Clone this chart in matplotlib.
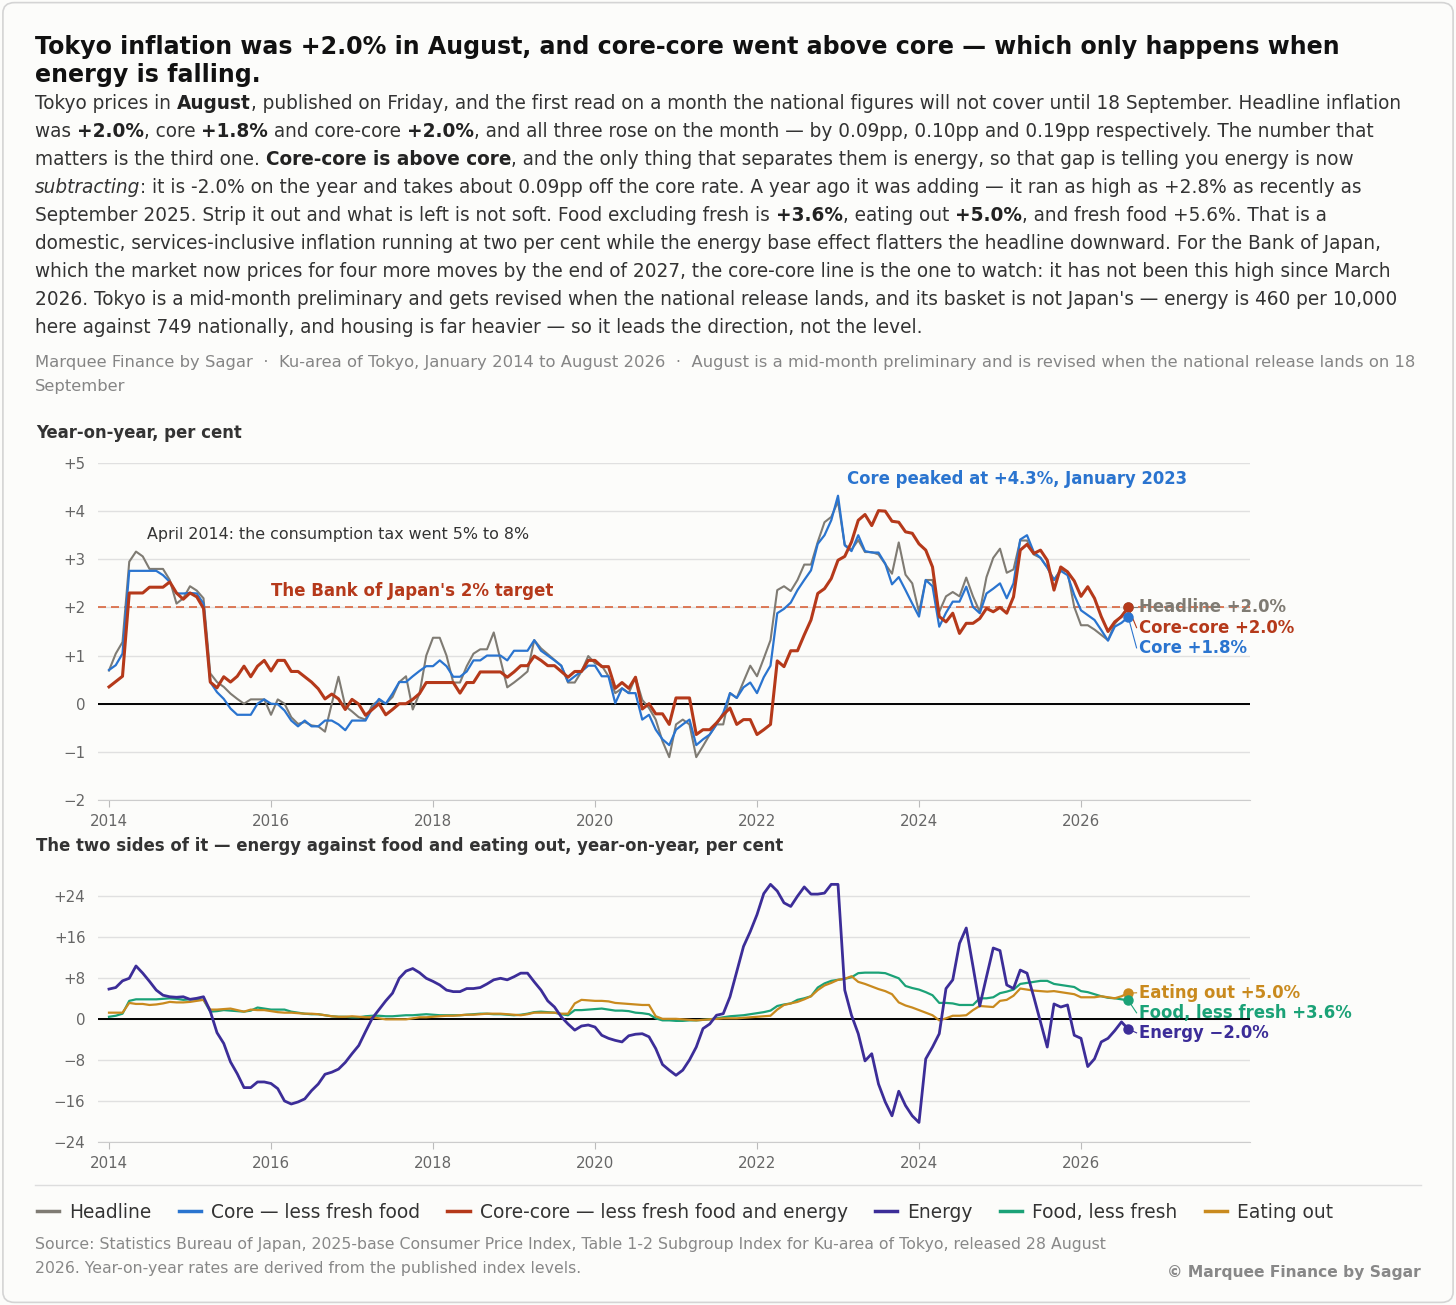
import numpy as np
import pandas as pd
import matplotlib
matplotlib.use('Agg')
import matplotlib.pyplot as plt
from matplotlib.ticker import FixedLocator, FuncFormatter
from matplotlib.lines import Line2D
from matplotlib.patches import FancyBboxPatch

# Monthly year-on-year rates, January 2014 to August 2026
headline = [
    0.69, 1.04, 1.28, 2.95, 3.16, 3.06, 2.8, 2.8, 2.8, 2.57, 2.08, 2.19,
    2.44, 2.35, 2.19, 0.63, 0.45, 0.35, 0.21, 0.1, 0.0, 0.09, 0.09, 0.09,
    -0.23, 0.09, 0.0, -0.28, -0.42, -0.38, -0.45, -0.47, -0.58, 0.0, 0.56, -0.05,
    -0.16, -0.28, -0.33, -0.03, 0.07, 0.0, 0.14, 0.45, 0.57, -0.12, 0.21, 1.0,
    1.37, 1.37, 1.0, 0.44, 0.44, 0.78, 1.04, 1.13, 1.13, 1.48, 0.91, 0.34,
    0.44, 0.55, 0.67, 1.32, 1.15, 1.03, 0.91, 0.79, 0.44, 0.44, 0.67, 0.99,
    0.84, 0.79, 0.57, 0.22, 0.32, 0.22, 0.55, 0.08, -0.09, -0.33, -0.78, -1.11,
    -0.43, -0.33, -0.43, -1.11, -0.88, -0.64, -0.43, -0.43, 0.22, 0.12, 0.46, 0.79,
    0.57, 0.94, 1.32, 2.36, 2.44, 2.34, 2.57, 2.89, 2.89, 3.36, 3.77, 3.88,
    4.2, 3.3, 3.2, 3.4, 3.15, 3.15, 3.1, 2.9, 2.7, 3.35, 2.68, 2.5,
    1.9, 2.57, 2.57, 1.91, 2.23, 2.32, 2.23, 2.62, 2.23, 1.91, 2.63, 3.03,
    3.22, 2.72, 2.79, 3.39, 3.39, 3.1, 3.03, 2.83, 2.57, 2.79, 2.74, 2.01,
    1.63, 1.63, 1.54, 1.43, 1.32, 1.66, 1.83, 2.0,
]
core = [
    0.7, 0.8, 1.04, 2.76, 2.76, 2.76, 2.76, 2.76, 2.67, 2.53, 2.29, 2.29,
    2.3, 2.29, 2.08, 0.45, 0.24, 0.1, -0.1, -0.23, -0.23, -0.23, 0.0, 0.09,
    0.0, -0.01, -0.14, -0.35, -0.47, -0.35, -0.47, -0.47, -0.35, -0.35, -0.43, -0.55,
    -0.35, -0.35, -0.35, -0.1, 0.1, 0.0, 0.21, 0.45, 0.45, 0.57, 0.68, 0.78,
    0.78, 0.9, 0.78, 0.56, 0.56, 0.67, 0.9, 0.9, 1.0, 1.0, 1.0, 0.9,
    1.1, 1.1, 1.1, 1.32, 1.1, 1.0, 0.9, 0.79, 0.46, 0.57, 0.67, 0.79,
    0.79, 0.57, 0.57, 0.01, 0.32, 0.22, 0.22, -0.33, -0.23, -0.54, -0.74, -0.86,
    -0.54, -0.43, -0.33, -0.86, -0.74, -0.64, -0.43, -0.19, 0.22, 0.12, 0.34, 0.44,
    0.22, 0.55, 0.79, 1.88, 1.97, 2.1, 2.36, 2.57, 2.77, 3.32, 3.5, 3.81,
    4.32, 3.29, 3.17, 3.5, 3.17, 3.14, 3.14, 2.91, 2.48, 2.63, 2.36, 2.08,
    1.81, 2.57, 2.44, 1.6, 1.89, 2.12, 2.12, 2.43, 2.01, 1.88, 2.29, 2.39,
    2.5, 2.19, 2.5, 3.41, 3.5, 3.15, 3.03, 2.83, 2.57, 2.76, 2.67, 2.26,
    1.94, 1.84, 1.74, 1.53, 1.31, 1.6, 1.68, 1.8,
]
core_core = [
    0.35, 0.46, 0.57, 2.3, 2.3, 2.3, 2.42, 2.42, 2.42, 2.53, 2.3, 2.17,
    2.3, 2.22, 1.98, 0.45, 0.33, 0.56, 0.45, 0.57, 0.78, 0.56, 0.78, 0.9,
    0.68, 0.9, 0.9, 0.67, 0.67, 0.56, 0.45, 0.31, 0.1, 0.2, 0.1, -0.12,
    0.09, -0.01, -0.24, -0.12, 0.0, -0.23, -0.12, 0.0, 0.0, 0.09, 0.21, 0.44,
    0.44, 0.44, 0.44, 0.44, 0.22, 0.44, 0.44, 0.66, 0.66, 0.66, 0.66, 0.55,
    0.66, 0.79, 0.79, 0.99, 0.9, 0.79, 0.79, 0.67, 0.55, 0.67, 0.67, 0.9,
    0.9, 0.77, 0.77, 0.32, 0.44, 0.32, 0.55, -0.11, 0.0, -0.21, -0.21, -0.43,
    0.12, 0.12, 0.12, -0.64, -0.54, -0.54, -0.4, -0.23, -0.09, -0.43, -0.33, -0.33,
    -0.64, -0.54, -0.43, 0.89, 0.77, 1.1, 1.1, 1.43, 1.74, 2.29, 2.39, 2.6,
    2.98, 3.06, 3.36, 3.81, 3.93, 3.7, 4.01, 4.0, 3.79, 3.77, 3.57, 3.54,
    3.32, 3.19, 2.84, 1.81, 1.7, 1.88, 1.46, 1.67, 1.67, 1.77, 1.98, 1.91,
    2.0, 1.88, 2.22, 3.19, 3.31, 3.12, 3.19, 2.98, 2.36, 2.84, 2.74, 2.55,
    2.23, 2.43, 2.19, 1.81, 1.5, 1.7, 1.81, 2.0,
]
energy = [
    5.8, 6.1, 7.4, 7.9, 10.3, 8.9, 7.3, 5.6, 4.6, 4.3, 4.2, 4.3,
    3.8, 4.0, 4.3, 1.5, -2.7, -4.8, -8.4, -10.7, -13.4, -13.4, -12.3, -12.3,
    -12.6, -13.6, -16.0, -16.6, -16.2, -15.6, -14.0, -12.7, -10.8, -10.4, -9.8, -8.5,
    -6.8, -5.2, -2.5, 0.1, 1.8, 3.5, 5.0, 7.9, 9.3, 9.8, 9.0, 7.9,
    7.3, 6.6, 5.6, 5.3, 5.3, 5.9, 5.9, 6.1, 6.8, 7.6, 7.9, 7.6,
    8.2, 8.9, 8.9, 7.2, 5.6, 3.5, 2.3, 0.4, -1.0, -2.2, -1.4, -1.2,
    -1.6, -3.2, -3.8, -4.2, -4.5, -3.3, -3.0, -2.9, -3.5, -5.8, -8.9, -10.0,
    -11.0, -10.0, -8.0, -5.5, -1.9, -1.0, 0.7, 1.0, 4.3, 9.2, 14.1, 17.0,
    20.3, 24.4, 26.2, 24.9, 22.6, 21.9, 23.9, 25.7, 24.3, 24.3, 24.5, 26.2,
    26.2, 5.6, 0.7, -2.9, -8.2, -6.8, -12.7, -16.2, -18.9, -14.1, -16.9, -18.9,
    -20.2, -7.8, -5.5, -2.9, 5.9, 7.6, 14.7, 17.7, 10.2, 2.5, 8.2, 13.8,
    13.3, 6.6, 5.9, 9.5, 8.9, 4.3, -0.6, -5.5, 2.9, 2.3, 2.7, -3.2,
    -3.8, -9.3, -7.8, -4.5, -3.8, -2.3, -0.6, -2.0,
]
food_less_fresh = [
    0.4, 0.6, 1.0, 3.5, 3.8, 3.8, 3.8, 3.8, 3.9, 4.0, 3.9, 3.7,
    3.8, 3.8, 3.7, 1.4, 1.5, 1.7, 1.6, 1.5, 1.4, 1.6, 2.2, 2.0,
    1.8, 1.8, 1.8, 1.4, 1.2, 1.0, 0.9, 0.9, 0.7, 0.5, 0.4, 0.4,
    0.3, 0.3, 0.5, 0.6, 0.6, 0.5, 0.5, 0.6, 0.7, 0.7, 0.8, 0.9,
    0.8, 0.7, 0.7, 0.7, 0.7, 0.8, 0.9, 1.0, 1.0, 0.9, 0.9, 0.8,
    0.7, 0.8, 1.0, 1.3, 1.4, 1.3, 1.2, 0.9, 0.7, 1.7, 1.7, 1.8,
    1.9, 2.0, 1.8, 1.6, 1.6, 1.5, 1.2, 1.1, 0.9, 0.1, -0.3, -0.3,
    -0.4, -0.4, -0.3, -0.3, -0.2, -0.1, 0.1, 0.3, 0.5, 0.6, 0.7, 0.9,
    1.1, 1.3, 1.6, 2.5, 2.8, 3.0, 3.7, 4.0, 4.4, 6.1, 6.9, 7.4,
    7.6, 7.8, 8.1, 8.9, 9.0, 9.0, 9.0, 8.9, 8.4, 7.9, 6.4, 6.0,
    5.7, 5.2, 4.6, 3.1, 3.1, 3.0, 2.7, 2.7, 2.7, 4.0, 4.0, 4.2,
    5.0, 5.3, 5.7, 6.8, 7.0, 7.2, 7.4, 7.4, 6.8, 6.6, 6.4, 6.2,
    5.4, 5.2, 4.8, 4.4, 4.1, 4.0, 3.8, 3.6,
]
eating_out = [
    1.2, 1.2, 1.2, 3.1, 2.9, 2.9, 2.7, 2.8, 3.0, 3.3, 3.2, 3.2,
    3.3, 3.5, 3.7, 1.8, 1.8, 1.9, 2.0, 1.7, 1.4, 1.8, 1.7, 1.7,
    1.5, 1.3, 1.2, 1.2, 1.1, 1.0, 1.0, 0.9, 0.7, 0.5, 0.4, 0.4,
    0.5, 0.4, 0.3, 0.3, 0.1, -0.1, -0.1, -0.1, -0.1, 0.1, 0.3, 0.3,
    0.4, 0.5, 0.6, 0.6, 0.7, 0.8, 0.8, 0.9, 1.0, 1.0, 1.0, 0.9,
    0.8, 0.7, 0.9, 1.2, 1.2, 1.2, 1.2, 1.0, 1.0, 3.0, 3.7, 3.6,
    3.5, 3.5, 3.4, 3.1, 3.0, 2.9, 2.8, 2.7, 2.7, 0.5, 0.0, 0.0,
    0.0, -0.1, -0.2, -0.3, -0.2, -0.1, 0.0, 0.1, 0.1, 0.1, 0.2, 0.3,
    0.4, 0.5, 0.6, 1.8, 2.7, 3.0, 3.3, 3.8, 4.4, 5.6, 6.5, 7.0,
    7.6, 7.8, 8.3, 7.2, 6.8, 6.3, 5.8, 5.4, 4.8, 3.2, 2.6, 2.2,
    1.7, 1.2, 0.7, -0.3, 0.1, 0.6, 0.6, 0.7, 1.7, 2.5, 2.4, 2.3,
    3.5, 3.7, 4.5, 5.9, 5.7, 5.5, 5.4, 5.3, 5.4, 5.2, 5.0, 4.8,
    4.2, 4.2, 4.2, 4.4, 4.2, 4.0, 4.4, 5.0,
]

months = pd.date_range('2014-01-01', periods=len(headline), freq='MS')
t = months.year + (months.month - 1) / 12.0

GRAY = '#7f7b73'
BLUE = '#2a74cf'
RED = '#b5391a'
PURPLE = '#3c2d98'
GREEN = '#1ba277'
ORANGE = '#c98a1e'
TARGET = '#d9643c'
BG = '#fcfcfa'
TXT = '#333333'

W, H = 1456, 1305
fig = plt.figure(figsize=(W / 100, H / 100), dpi=100, facecolor=BG)
renderer = fig.canvas.get_renderer()


def fx(px):
    return px / W


def fy(py):
    return 1 - py / H


def seg_width(txt, **kw):
    a = fig.text(0, 0, '|' + txt + '|', **kw)
    b = fig.text(0, 0, '||', **kw)
    w = a.get_window_extent(renderer).width - b.get_window_extent(renderer).width
    a.remove()
    b.remove()
    return w


def rich_line(x_px, y_px, parts, size):
    x = x_px
    for txt, st in parts:
        kw = dict(fontsize=size,
                  weight='bold' if 'b' in st else 'normal',
                  style='italic' if 'i' in st else 'normal',
                  color='#222222' if 'b' in st else TXT)
        fig.text(fx(x), fy(y_px), txt, va='baseline', ha='left', **kw)
        x += seg_width(txt, **kw)


# ---- header ----
fig.text(fx(35), fy(54), 'Tokyo inflation was +2.0% in August, and core-core went above core — which only happens when',
         fontsize=17.15, weight='bold', color='#111111', va='baseline')
fig.text(fx(35), fy(82), 'energy is falling.', fontsize=17.15, weight='bold', color='#111111', va='baseline')

body = [
    [('Tokyo prices in ', ''), ('August', 'b'),
     (', published on Friday, and the first read on a month the national figures will not cover until 18 September. Headline inflation', '')],
    [('was ', ''), ('+2.0%', 'b'), (', core ', ''), ('+1.8%', 'b'), (' and core-core ', ''), ('+2.0%', 'b'),
     (', and all three rose on the month — by 0.09pp, 0.10pp and 0.19pp respectively. The number that', '')],
    [('matters is the third one. ', ''), ('Core-core is above core', 'b'),
     (', and the only thing that separates them is energy, so that gap is telling you energy is now', '')],
    [('subtracting', 'i'),
     (': it is -2.0% on the year and takes about 0.09pp off the core rate. A year ago it was adding — it ran as high as +2.8% as recently as', '')],
    [('September 2025. Strip it out and what is left is not soft. Food excluding fresh is ', ''), ('+3.6%', 'b'),
     (', eating out ', ''), ('+5.0%', 'b'), (', and fresh food +5.6%. That is a', '')],
    [('domestic, services-inclusive inflation running at two per cent while the energy base effect flatters the headline downward. For the Bank of Japan,', '')],
    [('which the market now prices for four more moves by the end of 2027, the core-core line is the one to watch: it has not been this high since March', '')],
    [("2026. Tokyo is a mid-month preliminary and gets revised when the national release lands, and its basket is not Japan's — energy is 460 per 10,000", '')],
    [('here against 749 nationally, and housing is far heavier — so it leads the direction, not the level.', '')],
]
for i, parts in enumerate(body):
    rich_line(35, 109 + 28 * i, parts, 13.35)

fig.text(fx(35), fy(367), 'Marquee Finance by Sagar  ·  Ku-area of Tokyo, January 2014 to August 2026  ·  '
         'August is a mid-month preliminary and is revised when the national release lands on 18',
         fontsize=11.75, color='#858585', va='baseline')
fig.text(fx(35), fy(391), 'September', fontsize=11.75, color='#858585', va='baseline')

# ---- axes ----
X0, X1 = 2014 - 11 / 81, 2014 + 1141 / 81


def pm(v, _=None):
    if v == 0:
        return '0'
    return f'+{v:g}' if v > 0 else f'\u2212{abs(v):g}'


def style_axes(ax, yticks):
    ax.set_facecolor(BG)
    ax.set_xlim(X0, X1)
    for s in ['left', 'right', 'top']:
        ax.spines[s].set_visible(False)
    ax.spines['bottom'].set_color('#cccccc')
    ax.yaxis.set_major_locator(FixedLocator(yticks))
    ax.yaxis.set_major_formatter(FuncFormatter(pm))
    ax.xaxis.set_major_locator(FixedLocator(range(2014, 2027, 2)))
    ax.xaxis.set_major_formatter(FuncFormatter(lambda v, _: f'{int(v)}'))
    ax.tick_params(axis='y', length=0, pad=9, labelsize=10.8, labelcolor='#666666')
    ax.tick_params(axis='x', length=5, color='#bbbbbb', pad=5, labelsize=10.8, labelcolor='#666666')
    ax.grid(axis='y', color='#e0e0e0', lw=1)
    ax.set_axisbelow(True)
    ax.axhline(0, color='black', lw=1.4, zorder=1.5)


ax1 = fig.add_axes([fx(98), fy(800), (1250 - 98) / W, (800 - 463) / H])
style_axes(ax1, range(-2, 6))
ax1.set_ylim(-2, 5)
ax1.axhline(2, color=TARGET, lw=1.2, ls=(0, (4.8, 3)), zorder=1.6)
ax1.plot(t, headline, color=GRAY, lw=1.5, zorder=2)
ax1.plot(t, core, color=BLUE, lw=1.6, zorder=3)
ax1.plot(t, core_core, color=RED, lw=2.2, zorder=4)

lab_x = 2014 + (1139 - 109) / 81
top_ends = [(headline, GRAY, 'Headline +2.0%', 2.0), (core_core, RED, 'Core-core +2.0%', 1.58),
            (core, BLUE, 'Core +1.8%', 1.16)]
for series, col, lab, ly in top_ends:
    ax1.plot([t[-1], lab_x - 0.03], [series[-1], ly], color=col, lw=0.8, zorder=4)
    ax1.plot(t[-1], series[-1], 'o', ms=6.5, color=col, zorder=5)
    ax1.text(lab_x, ly, lab, color=col, fontsize=11.9, weight='bold', va='center', ha='left', zorder=6)

ax1.text(2014 + 38 / 81, 3.51, 'April 2014: the consumption tax went 5% to 8%', fontsize=11.4,
         color=TXT, va='center')
ax1.text(2014 + 162 / 81, 2.34, "The Bank of Japan's 2% target", fontsize=12, weight='bold',
         color=RED, va='center')
ax1.text(2014 + 738 / 81, 4.67, 'Core peaked at +4.3%, January 2023', fontsize=11.9, weight='bold',
         color=BLUE, va='center')

fig.text(fx(36), fy(433), 'Year-on-year, per cent', fontsize=11.9, weight='bold', color=TXT, va='center')
fig.text(fx(36), fy(846), 'The two sides of it — energy against food and eating out, year-on-year, per cent',
         fontsize=11.9, weight='bold', color=TXT, va='center')

ax2 = fig.add_axes([fx(98), fy(1142), (1250 - 98) / W, (1142 - 870) / H])
style_axes(ax2, range(-24, 25, 8))
ax2.set_ylim(-24, 29)
ax2.plot(t, food_less_fresh, color=GREEN, lw=1.6, zorder=2)
ax2.plot(t, eating_out, color=ORANGE, lw=1.6, zorder=3)
ax2.plot(t, energy, color=PURPLE, lw=2.0, zorder=4)

bot_ends = [(eating_out, ORANGE, 'Eating out +5.0%', 5.07), (food_less_fresh, GREEN, 'Food, less fresh +3.6%', 1.17),
            (energy, PURPLE, 'Energy \u22122.0%', -2.73)]
for series, col, lab, ly in bot_ends:
    ax2.plot([t[-1], lab_x - 0.03], [series[-1], ly], color=col, lw=0.8, zorder=4)
    ax2.plot(t[-1], series[-1], 'o', ms=6.5, color=col, zorder=5)
    ax2.text(lab_x, ly, lab, color=col, fontsize=11.9, weight='bold', va='center', ha='left', zorder=6)

# ---- footer ----
fig.add_artist(Line2D([fx(35), fx(1421)], [fy(1185), fy(1185)], color='#dddddd', lw=1))
handles = [Line2D([], [], color=c, lw=2.5) for c in [GRAY, BLUE, RED, PURPLE, GREEN, ORANGE]]
labels = ['Headline', 'Core — less fresh food', 'Core-core — less fresh food and energy',
          'Energy', 'Food, less fresh', 'Eating out']
fig.legend(handles, labels, loc='center left', bbox_to_anchor=(fx(20), fy(1212)), ncol=6, frameon=False,
           fontsize=13.4, handlelength=1.2, handletextpad=0.55, columnspacing=1.45, labelcolor=TXT)

fig.text(fx(35), fy(1249), 'Source: Statistics Bureau of Japan, 2025-base Consumer Price Index, Table 1-2 Subgroup '
         'Index for Ku-area of Tokyo, released 28 August', fontsize=11.3, color='#888888', va='baseline')
fig.text(fx(35), fy(1273), '2026. Year-on-year rates are derived from the published index levels.',
         fontsize=11.3, color='#888888', va='baseline')
fig.text(fx(1421), fy(1277), '\u00a9 Marquee Finance by Sagar', fontsize=11.2, weight='bold',
         color='#888888', va='baseline', ha='right')

fig.add_artist(FancyBboxPatch((0.002, 0.002), 0.996, 0.996, boxstyle='round,pad=0,rounding_size=0.008',
                              transform=fig.transFigure, fill=False, ec='#d4d4d4', lw=1.2))

fig.savefig('out.png', dpi=100, facecolor=BG)
